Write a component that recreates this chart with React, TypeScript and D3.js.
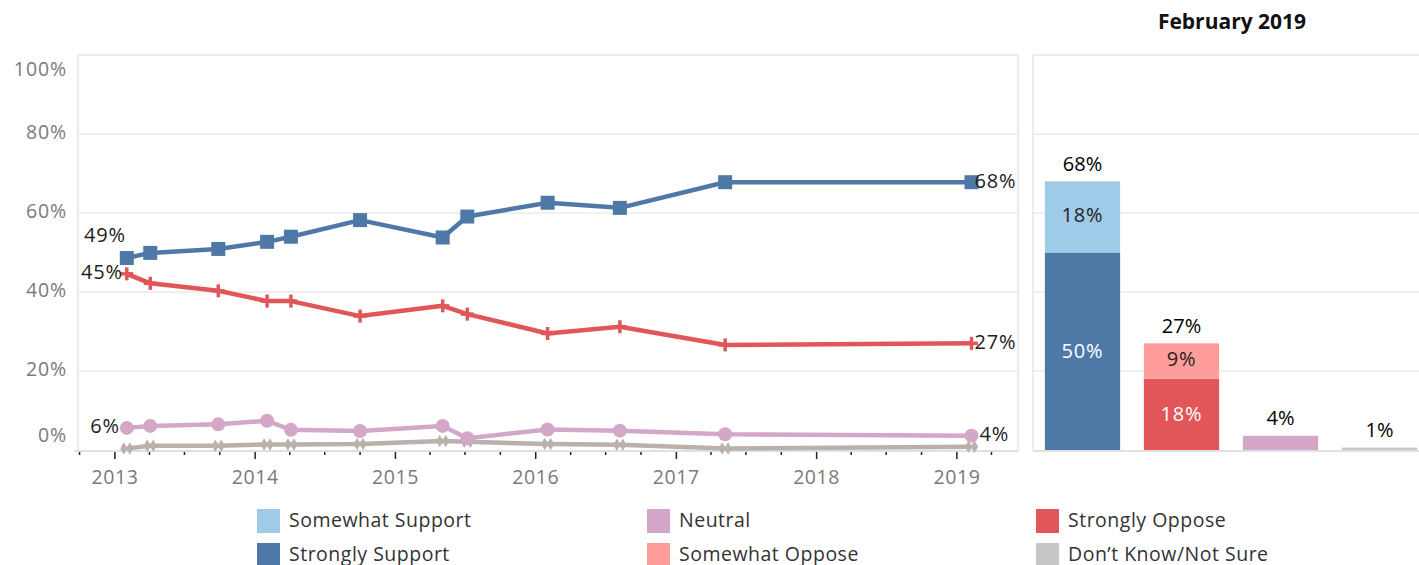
import React from "react";
import * as d3 from "d3";

const surveyDates = [
  "2013-02-01", "2013-04-03", "2013-09-27", "2014-02-01", "2014-04-04", "2014-10-01",
  "2015-05-04", "2015-07-07", "2016-02-01", "2016-08-07", "2017-05-08", "2019-02-08",
];
const stronglySupport = [0.486, 0.499, 0.509, 0.527, 0.54, 0.582, 0.538, 0.591, 0.626, 0.613, 0.678, 0.678];
const stronglyOppose = [0.446, 0.422, 0.403, 0.377, 0.377, 0.339, 0.365, 0.344, 0.295, 0.312, 0.266, 0.27];
const neutral = [0.056, 0.061, 0.065, 0.074, 0.051, 0.048, 0.061, 0.03, 0.052, 0.049, 0.04, 0.036];
const dontKnow = [0.004, 0.011, 0.011, 0.014, 0.014, 0.015, 0.023, 0.021, 0.015, 0.013, 0.004, 0.008];

const yTicks = [0, 0.2, 0.4, 0.6, 0.8, 1];
const xYearTicks = [2013, 2014, 2015, 2016, 2017, 2018, 2019];

const barCategories = ["Support", "Oppose", "Neutral", "DontKnow"];
const barStrong = [0.5, 0.18, 0.036, 0.006];
const barSomewhat = [0.18, 0.09, 0, 0];

const legendItems = [
  { label: "Somewhat Support", color: "#a0cbe8" },
  { label: "Strongly Support", color: "#4e79a7" },
  { label: "Neutral", color: "#d4a6c8" },
  { label: "Somewhat Oppose", color: "#ff9d9a" },
  { label: "Strongly Oppose", color: "#e15759" },
  { label: "Don\u2019t Know/Not Sure", color: "#c7c7c7" },
];

const BLUE = "#4e79a7";
const RED = "#e15759";
const PINK = "#d4a6c8";
const GRAYLINE = "#bab0ac";
const FONT = "'Open Sans', Lato, sans-serif";
const TITLEFONT = "'Open Sans', Lato, sans-serif";
const fmt = d3.format(".0%");

export default function App() {
  const W = 1419, H = 565;
  const left = 78, right = 1018, top = 55, bottom = 450;
  const x = d3.scaleTime()
    .domain([new Date(2012, 8, 27), new Date(2019, 5, 9)])
    .range([left, right]);
  const y = d3.scaleLinear().domain([0, 1]).range([bottom, top]);
  const dates = surveyDates.map((s) => new Date(s + "T00:00:00"));

  const line = d3.line<number>()
    .x((_, i) => x(dates[i]))
    .y((d) => y(d));

  const quarterTicks = d3.timeMonth.every(3)!.range(new Date(2012, 9, 1), new Date(2019, 6, 1));

  const rLeft = 1033, rRight = 1429;
  const xb = d3.scaleBand().domain(barCategories).range([rLeft, rRight]).paddingInner(0.24).paddingOuter(0.12);
  const strongColors = [BLUE, RED, PINK, "#c7c7c7"];
  const somewhatColors = ["#a0cbe8", "#ff9d9a", "#ffffff", "#ffffff"];

  const series = [
    { values: stronglySupport, color: BLUE, kind: "square" },
    { values: stronglyOppose, color: RED, kind: "plus" },
    { values: neutral, color: PINK, kind: "circle" },
    { values: dontKnow, color: GRAYLINE, kind: "x" },
  ];

  const marker = (kind: string, cx: number, cy: number, color: string, key: string) => {
    if (kind === "square") return <rect key={key} x={cx - 7} y={cy - 7} width={14} height={14} fill={color} />;
    if (kind === "circle") return <circle key={key} cx={cx} cy={cy} r={7} fill={color} />;
    if (kind === "plus")
      return (
        <g key={key} stroke={color} strokeWidth={3.5}>
          <line x1={cx - 6.5} x2={cx + 6.5} y1={cy} y2={cy} />
          <line x1={cx} x2={cx} y1={cy - 6.5} y2={cy + 6.5} />
        </g>
      );
    const dp = d3.symbol(d3.symbolDiamond, 45)()!;
    return (
      <g key={key} fill={color}>
        <path d={dp} transform={`translate(${cx - 3},${cy})`} />
        <path d={dp} transform={`translate(${cx + 3},${cy})`} />
      </g>
    );
  };

  const lastI = surveyDates.length - 1;
  const LS = 20;
  const LSP = 0.8;

  return (
    <div style={{ position: "absolute", left: 0, top: 0 }}>
      <svg width={W} height={H} style={{ display: "block", fontFamily: FONT }}>
        <rect x={0} y={0} width={W} height={H} fill="#fff" />
        {yTicks.filter((t) => t > 0 && t < 1).map((t) => (
          <line key={"g" + t} x1={left} x2={right} y1={y(t)} y2={y(t)} stroke="#f0f0f0" strokeWidth={2} />
        ))}
        <rect x={left} y={top} width={right - left} height={bottom - top + 1} fill="none" stroke="#e6e6e6" strokeWidth={1.5} />
        <line x1={left - 4} x2={right} y1={bottom + 1} y2={bottom + 1} stroke="#e0e0e0" strokeWidth={2} />
        {yTicks.map((t) => {
          let ly = y(t);
          if (t === 1) ly += 16;
          if (t === 0) ly -= 13;
          return (
            <text key={"yl" + t} x={67} y={ly} textAnchor="end" dominantBaseline="middle" fontSize={19.5} letterSpacing={0.9} fill="#7a7a7a">
              {fmt(t)}
            </text>
          );
        })}
        {quarterTicks.map((d, i) => {
          const major = d.getMonth() === 0;
          return (
            <line key={"qt" + i} x1={x(d)} x2={x(d)} y1={bottom + 2} y2={bottom + (major ? 9 : 5)} stroke="#222" strokeWidth={1.5} />
          );
        })}
        {xYearTicks.map((yr) => (
          <text key={"xl" + yr} x={x(new Date(yr, 0, 1))} y={479} textAnchor="middle" dominantBaseline="middle" fontSize={19.5} letterSpacing={0.6} fill="#7a7a7a">
            {yr}
          </text>
        ))}
        {series.slice().reverse().map((s) => (
          <g key={s.color}>
            <path d={line(s.values)!} fill="none" stroke={s.color} strokeWidth={4.5} strokeLinejoin="round" />
            {s.values.map((v, i) => marker(s.kind, x(dates[i]), y(v), s.color, s.color + i))}
          </g>
        ))}
        <g fontSize={LS} letterSpacing={LSP} fill="#222">
          <text x={x(dates[0]) - 1} y={y(stronglySupport[0]) - 21} textAnchor="end" dominantBaseline="middle">{fmt(stronglySupport[0])}</text>
          <text x={x(dates[0]) - 4} y={y(stronglyOppose[0])} textAnchor="end" dominantBaseline="middle">{fmt(stronglyOppose[0])}</text>
          <text x={x(dates[0]) - 7} y={y(neutral[0])} textAnchor="end" dominantBaseline="middle">{fmt(neutral[0])}</text>
          <text x={x(dates[lastI]) + 3} y={y(stronglySupport[lastI])} dominantBaseline="middle">{fmt(stronglySupport[lastI])}</text>
          <text x={x(dates[lastI]) + 3} y={y(stronglyOppose[lastI])} dominantBaseline="middle">{fmt(stronglyOppose[lastI])}</text>
          <text x={x(dates[lastI]) + 8} y={y(neutral[lastI])} dominantBaseline="middle">{fmt(neutral[lastI])}</text>
        </g>

        <text x={1232} y={23} textAnchor="middle" dominantBaseline="middle" fontSize={21} fontWeight={700} fontFamily={TITLEFONT} fill="#111">February 2019</text>
        {yTicks.filter((t) => t > 0 && t < 1).map((t) => (
          <line key={"rg" + t} x1={rLeft} x2={W} y1={y(t)} y2={y(t)} stroke="#f0f0f0" strokeWidth={2} />
        ))}
        <line x1={rLeft} x2={W} y1={top} y2={top} stroke="#e6e6e6" strokeWidth={1.5} />
        <line x1={rLeft} x2={rLeft} y1={top} y2={bottom + 1} stroke="#e6e6e6" strokeWidth={1.5} />
        <line x1={rLeft} x2={W} y1={bottom + 1} y2={bottom + 1} stroke="#e0e0e0" strokeWidth={2} />
        {barCategories.map((c, i) => {
          const bx = xb(c)!;
          const bw = xb.bandwidth();
          const s1 = barStrong[i];
          const s2 = barSomewhat[i];
          const total = s1 + s2;
          return (
            <g key={c}>
              <rect x={bx} y={y(s1)} width={bw} height={y(0) - y(s1)} fill={strongColors[i]} />
              {s2 > 0 && <rect x={bx} y={y(total)} width={bw} height={y(s1) - y(total)} fill={somewhatColors[i]} />}
              {s2 > 0 && (
                <text x={bx + bw / 2} y={(y(0) + y(s1)) / 2 + 1} textAnchor="middle" dominantBaseline="middle" fontSize={LS} letterSpacing={LSP} fill="#fff">{fmt(s1)}</text>
              )}
              {s2 > 0 && (
                <text x={bx + bw / 2} y={(y(s1) + y(total)) / 2} textAnchor="middle" dominantBaseline="middle" fontSize={LS} letterSpacing={LSP} fill="#222">{fmt(s2)}</text>
              )}
              <text x={bx + bw / 2} y={y(total) - 16} textAnchor="middle" dominantBaseline="middle" fontSize={20} fontWeight={500} fontFamily={TITLEFONT} fill="#000">{fmt(total)}</text>
            </g>
          );
        })}
        {legendItems.map((it, i) => {
          const col = Math.floor(i / 2);
          const row = i % 2;
          const lx = [257, 647, 1036][col];
          const ly = 509 + row * 34;
          return (
            <g key={it.label}>
              <rect x={lx} y={ly} width={23} height={24} fill={it.color} />
              <text x={lx + 32} y={ly + 13} dominantBaseline="middle" fontSize={19.5} letterSpacing={0.5} fill="#333">{it.label}</text>
            </g>
          );
        })}
      </svg>
    </div>
  );
}
